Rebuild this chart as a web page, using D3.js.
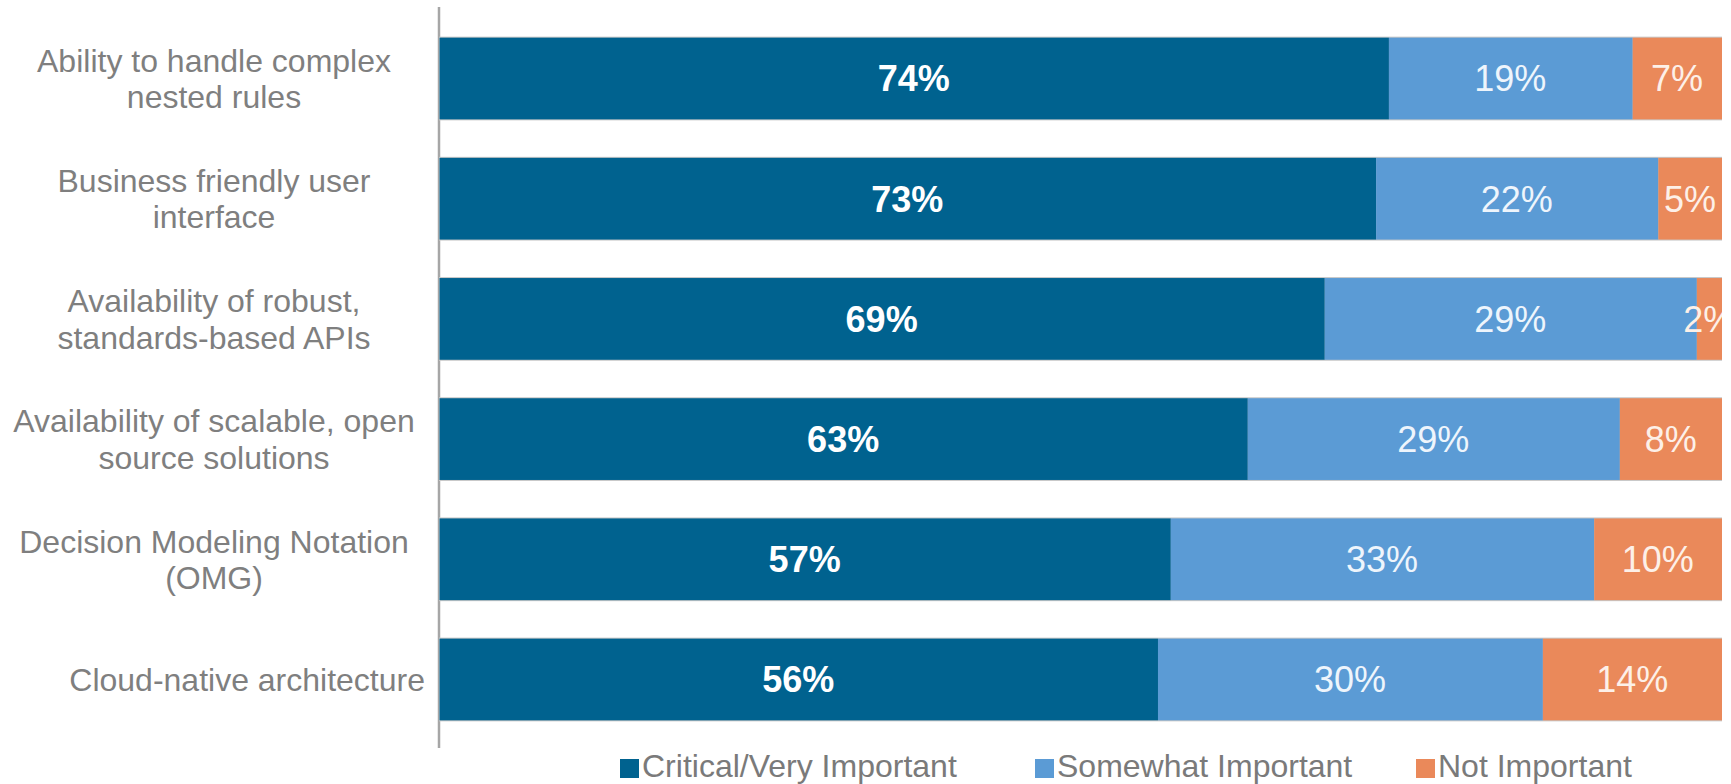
<!DOCTYPE html>
<html>
<head>
<meta charset="utf-8">
<script src="https://cdn.jsdelivr.net/npm/d3@7"></script>
<style>
  html, body { margin: 0; padding: 0; background: #ffffff; }
  svg { display: block; }
  text { font-family: "Liberation Sans", Arial, sans-serif; }
</style>
</head>
<body>
<svg id="chart" width="1731" height="784"></svg>
<script>
// ---- data ----
const categories = [
  "Ability to handle complex nested rules",
  "Business friendly user interface",
  "Availability of robust, standards-based APIs",
  "Availability of scalable, open source solutions",
  "Decision Modeling Notation (OMG)",
  "Cloud-native architecture"
];
const categoryLines = [
  ["Ability to handle complex", "nested rules"],
  ["Business friendly user", "interface"],
  ["Availability of robust,", "standards-based APIs"],
  ["Availability of scalable, open", "source solutions"],
  ["Decision Modeling Notation", "(OMG)"],
  ["Cloud-native architecture"]
];
const seriesNames = ["Critical/Very Important", "Somewhat Important", "Not Important"];
const critical = [74, 73, 69, 63, 57, 56];
const somewhat = [19, 22, 29, 29, 33, 30];
const notImportant = [7, 5, 2, 8, 10, 14];
const seriesColors = ["#00628F", "#5B9BD5", "#EA895A"];

// ---- layout ----
const svg = d3.select("#chart");
const plotLeft = 439, plotRight = 1722, plotTop = 7, plotBottom = 748;

const rows = categories.map((c, i) => ({
  cat: c, lines: categoryLines[i],
  vals: [critical[i], somewhat[i], notImportant[i]]
}));

const x = d3.scaleLinear().domain([0, 100]).range([plotLeft, plotRight]);
const y = d3.scaleBand().domain(categories).range([plotTop + 3, plotBottom])
  .paddingInner(0.32).paddingOuter(0.23);

// axis line
svg.append("line")
  .attr("x1", plotLeft).attr("x2", plotLeft)
  .attr("y1", plotTop).attr("y2", plotBottom)
  .attr("stroke", "#a6a6a6").attr("stroke-width", 2.5);

svg.append("defs").append("clipPath").attr("id", "plotclip")
  .append("rect").attr("x", plotLeft).attr("y", 0)
  .attr("width", plotRight - plotLeft).attr("height", 784);

const plot = svg.append("g").attr("clip-path", "url(#plotclip)");

// stacked segments
const stackData = [];
rows.forEach(r => {
  let acc = 0;
  r.vals.forEach((v, k) => {
    stackData.push({cat: r.cat, k, v, x0: acc, x1: acc + v});
    acc += v;
  });
});

plot.selectAll("rect.outline").data(rows).enter().append("rect")
  .attr("class", "outline")
  .attr("x", x(0)).attr("width", x(100) - x(0))
  .attr("y", d => y(d.cat) - 1).attr("height", y.bandwidth() + 2)
  .attr("fill", "#c8c8c8");

plot.selectAll("rect.seg").data(stackData).enter().append("rect")
  .attr("class", "seg")
  .attr("x", d => x(d.x0) + 0.5)
  .attr("width", d => x(d.x1) - x(d.x0))
  .attr("y", d => y(d.cat))
  .attr("height", y.bandwidth())
  .attr("fill", d => seriesColors[d.k]);

plot.selectAll("text.val").data(stackData).enter().append("text")
  .attr("class", "val")
  .attr("x", d => x((d.x0 + d.x1) / 2))
  .attr("y", d => y(d.cat) + y.bandwidth() / 2)
  .attr("dy", "0.36em")
  .attr("text-anchor", "middle")
  .attr("font-size", 36)
  .attr("font-weight", d => d.k === 0 ? "bold" : "normal")
  .attr("fill", d => d.k === 0 ? "#ffffff" : (d.k === 1 ? "#eef5fc" : "#fdf0e8"))
  .text(d => d.v + "%");

// category labels: multi-line labels centered in label area, single line right-aligned
const labelCenter = 214;
const labelRight = 425;
const lineH = 36.5;
rows.forEach(r => {
  const n = r.lines.length;
  const g = svg.append("text")
    .attr("font-size", 32)
    .attr("fill", "#7f7f7f")
    .attr("text-anchor", n > 1 ? "middle" : "end");
  const cy = y(r.cat) + y.bandwidth() / 2;
  r.lines.forEach((ln, j) => g.append("tspan")
    .attr("x", n > 1 ? labelCenter : labelRight)
    .attr("y", cy + (j - (n - 1) / 2) * lineH)
    .attr("dy", "0.36em")
    .text(ln));
});

// legend
const legendItems = [
  {name: seriesNames[0], x: 620},
  {name: seriesNames[1], x: 1035},
  {name: seriesNames[2], x: 1416}
];
const lg = svg.append("g");
legendItems.forEach((it, k) => {
  lg.append("rect").attr("x", it.x).attr("y", 759).attr("width", 19).attr("height", 19)
    .attr("fill", seriesColors[k]);
  lg.append("text").attr("x", it.x + 22).attr("y", 777)
    .attr("font-size", 32).attr("fill", "#7a7a7a")
    .text(it.name);
});
</script>
</body>
</html>
